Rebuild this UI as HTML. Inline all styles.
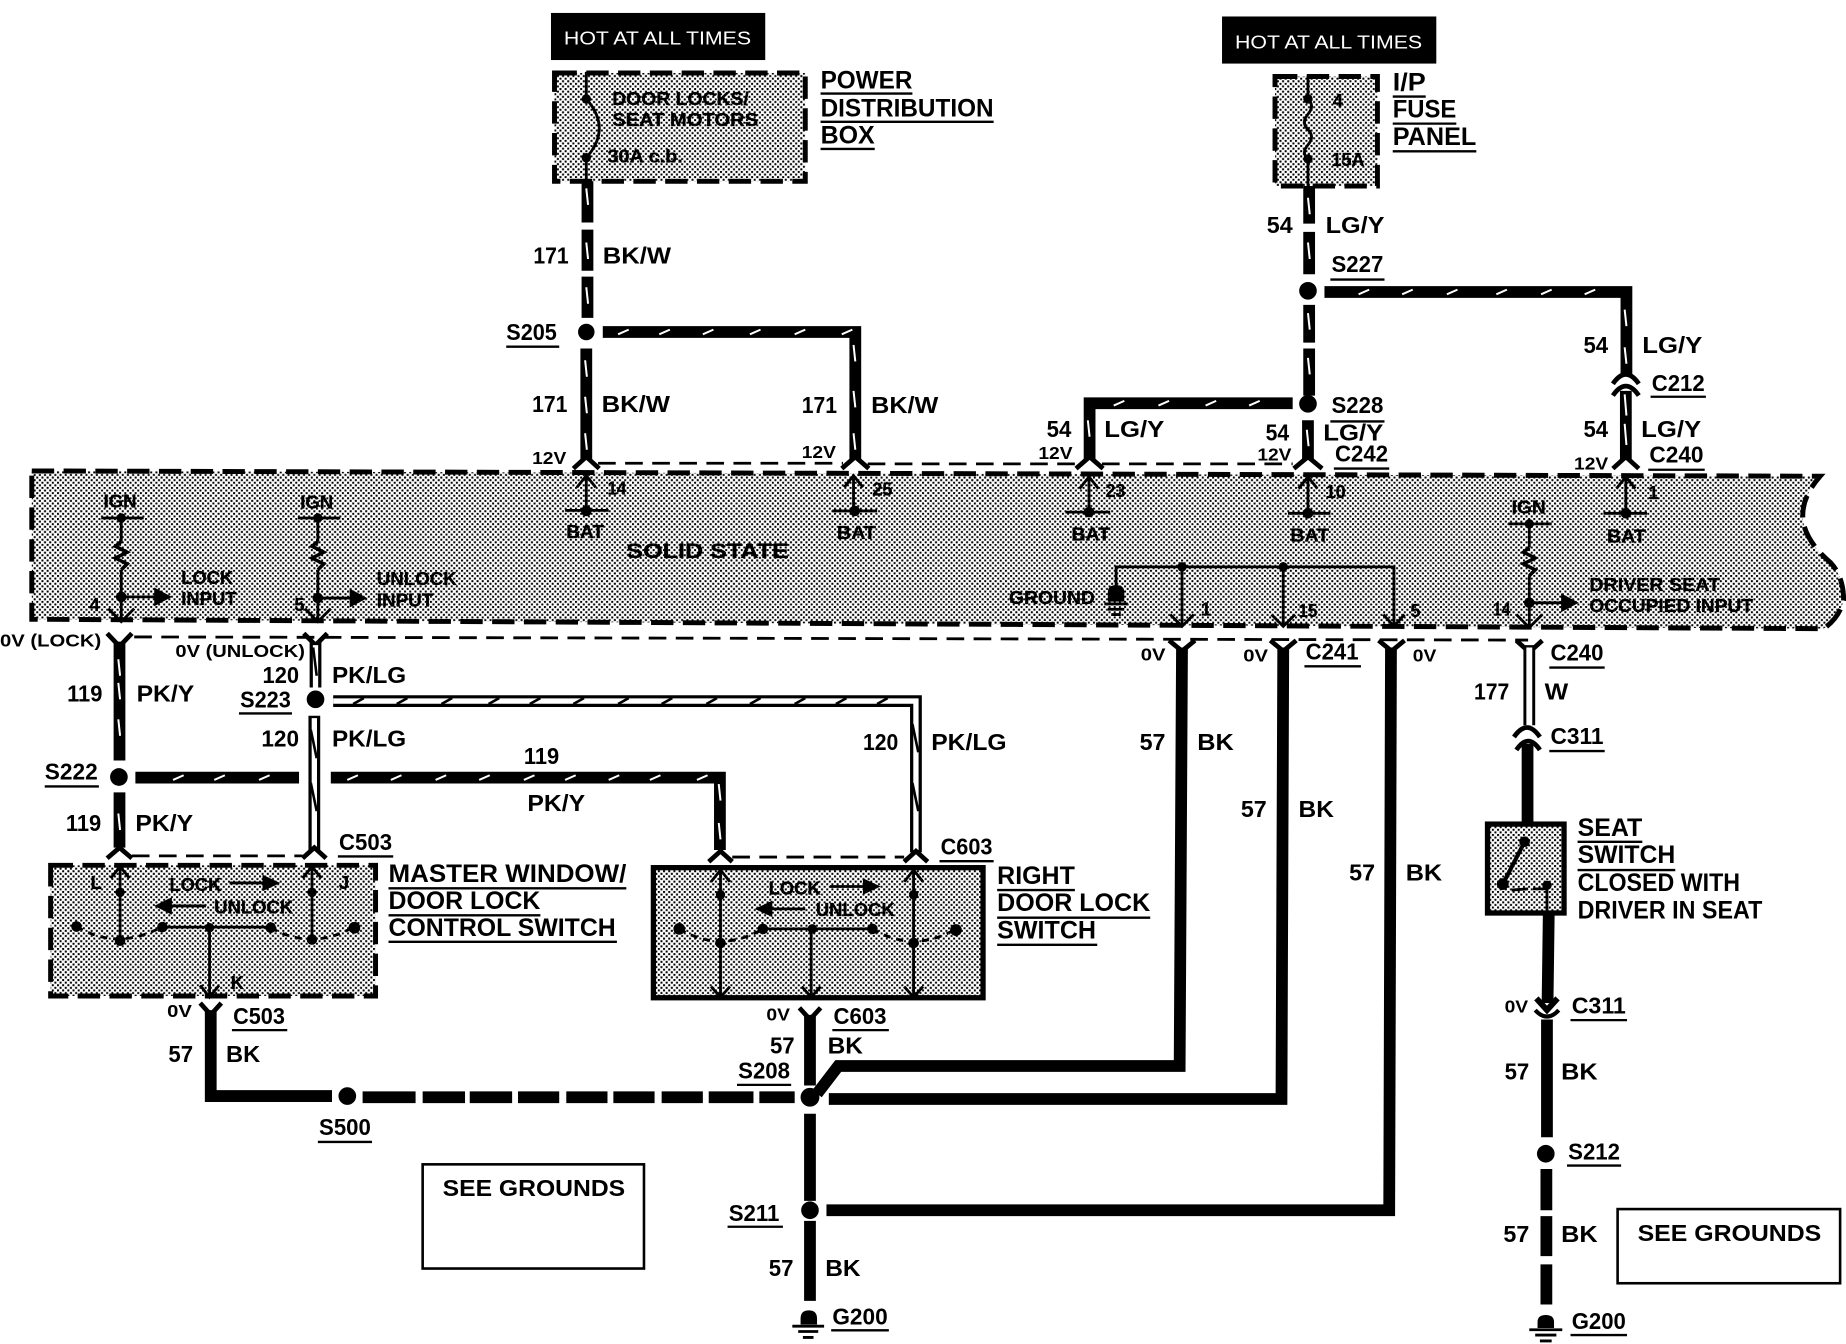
<!DOCTYPE html>
<html><head><meta charset="utf-8"><style>
html,body{margin:0;padding:0;background:#fff}
svg{display:block}
text{font-family:"Liberation Sans",sans-serif;fill:#000}
.l{font-weight:bold;font-size:20px}
.v{font-weight:bold;font-size:15px}
.s{font-size:15.5px;font-weight:bold;stroke:#000;stroke-width:.25}
.w{font-size:16px;fill:#fff}
.n{font-weight:bold;font-size:21px}
.u{stroke:#000;stroke-width:2}
.h{stroke:#000;stroke-width:10;fill:none}
.f{stroke:#fff;stroke-width:1.7;fill:none}
.t{stroke:#000;stroke-width:2.4;fill:none}
.z{stroke:#000;stroke-width:3;fill:none}
.c{stroke:#000;stroke-width:4;fill:none}
.box{stroke:#000;stroke-width:4.2;stroke-dasharray:19 8;fill:url(#d)}
.dl{stroke:#000;stroke-width:2.4;stroke-dasharray:15 8;fill:none}
.dw{stroke:#000;stroke-width:10;fill:none}
.dwi{stroke:#fff;stroke-width:4.5;fill:none}
</style></head><body>
<svg xmlns="http://www.w3.org/2000/svg" width="1846" height="1344" viewBox="0 0 1568 1141.6">
<defs>
<pattern id="d" patternUnits="userSpaceOnUse" width="4.4" height="4.4">
<rect width="4.4" height="4.4" fill="#fff"/>
<rect x="0" y="0" width="1.7" height="1.7" fill="#000"/>
<rect x="2.2" y="2.2" width="1.7" height="1.7" fill="#000"/>
</pattern>
</defs>
<rect width="1568" height="1142" fill="#fff"/>

<!-- HOT boxes -->
<rect x="468" y="11" width="182" height="40" fill="#000"/>
<text class="w" x="479" y="38" textLength="159" lengthAdjust="spacingAndGlyphs">HOT AT ALL TIMES</text>
<rect x="1038" y="14" width="182" height="40" fill="#000"/>
<text class="w" x="1049" y="41" textLength="159" lengthAdjust="spacingAndGlyphs">HOT AT ALL TIMES</text>

<!-- Power distribution box -->
<rect class="box" x="471" y="62" width="213" height="92"/>
<path class="t" d="M498 61V84Q520 109 498 134V154"/>
<circle cx="498" cy="84" r="4"/><circle cx="498" cy="134" r="4"/>
<text class="s" x="520" y="89" textLength="116" lengthAdjust="spacingAndGlyphs">DOOR LOCKS/</text>
<text class="s" x="520" y="107" textLength="124" lengthAdjust="spacingAndGlyphs">SEAT MOTORS</text>
<text class="s" x="516" y="138" textLength="64" lengthAdjust="spacingAndGlyphs">30A c.b.</text>
<text class="n" x="697" y="75" textLength="78" lengthAdjust="spacingAndGlyphs">POWER</text><line class="u" x1="697" x2="775" y1="79.5" y2="79.5"/>
<text class="n" x="697" y="99" textLength="147" lengthAdjust="spacingAndGlyphs">DISTRIBUTION</text><line class="u" x1="697" x2="844" y1="103.5" y2="103.5"/>
<text class="n" x="697" y="122" textLength="46" lengthAdjust="spacingAndGlyphs">BOX</text><line class="u" x1="697" x2="743" y1="126.5" y2="126.5"/>

<!-- 171 wires -->
<path class="h" d="M499 154V189M499 195V230M499 235V270"/>
<circle cx="498" cy="282" r="7"/>
<path class="h" d="M498 296V390"/>
<path class="h" d="M512 282H726.5V390"/>
<path class="f" d="M498 160l1.500 14M498 206l1.500 14M498 244l1.500 14M497 306l1.500 14M497 337l1.500 14M497 368l1.500 14M725 293l1.500 14M725 332l1.500 14M725 368l1.500 14M525 284l9 -4M560 284l9 -4M597 284l9 -4M637 284l9 -4M675 284l9 -4M715 284l9 -4"/>
<text class="l" x="453" y="224" textLength="30" lengthAdjust="spacingAndGlyphs">171</text>
<text class="l" x="512" y="224" textLength="58" lengthAdjust="spacingAndGlyphs">BK/W</text>
<text class="l" x="452" y="350" textLength="30" lengthAdjust="spacingAndGlyphs">171</text>
<text class="l" x="511" y="350" textLength="58" lengthAdjust="spacingAndGlyphs">BK/W</text>
<text class="l" x="681" y="351" textLength="30" lengthAdjust="spacingAndGlyphs">171</text>
<text class="l" x="740" y="351" textLength="57" lengthAdjust="spacingAndGlyphs">BK/W</text>
<text class="l" x="430" y="289" textLength="43" lengthAdjust="spacingAndGlyphs">S205</text><line class="u" x1="430" x2="475" y1="294.5" y2="294.5"/>

<!-- right top -->
<rect class="box" x="1083" y="65" width="87" height="93"/>
<path class="t" d="M1111 64V84q6 6 0 13t0 13t0 13t0 12V158"/>
<circle cx="1111" cy="84" r="4"/><circle cx="1111" cy="135" r="4"/>
<text class="s" x="1132" y="91">4</text>
<text class="s" x="1131" y="141" textLength="28" lengthAdjust="spacingAndGlyphs">15A</text>
<text class="n" x="1183" y="77" textLength="28" lengthAdjust="spacingAndGlyphs">I/P</text><line class="u" x1="1183" x2="1211" y1="82" y2="82"/>
<text class="n" x="1183" y="100" textLength="54" lengthAdjust="spacingAndGlyphs">FUSE</text><line class="u" x1="1183" x2="1237" y1="105" y2="105"/>
<text class="n" x="1183" y="123" textLength="71" lengthAdjust="spacingAndGlyphs">PANEL</text><line class="u" x1="1183" x2="1254" y1="128.5" y2="128.5"/>
<path class="h" d="M1112 158V190M1112 197V233M1112 259V291M1112 296V336"/>
<circle cx="1111" cy="247" r="7.5"/><circle cx="1111" cy="343" r="7.5"/>
<path class="h" d="M1125 248H1381.5V318"/>
<path class="h" d="M1098 342.500H925.500V390"/>
<path class="h" d="M1111 357V390"/>
<path class="h" d="M1381 332V390"/>
<path class="f" d="M1111 168l1.500 14M1111 206l1.500 14M1111 266l1.500 14M1111 304l1.500 14M1110 365l1.500 14M1380 263l1.500 14M1380 295l1.500 14M1380 335l1.500 18M1380 360l1.500 18M924 357l1.500 14M1154 250l9 -4M1191 250l9 -4M1229 250l9 -4M1271 250l9 -4M1309 250l9 -4M1346 250l9 -4M946 344.500l9 -4M984 344.500l9 -4M1024 344.500l9 -4M1061 344.500l9 -4"/>
<path d="M1370 326Q1381 310 1392 326" fill="none" stroke="#000" stroke-width="4"/>
<path d="M1370 336Q1381 320 1392 336" fill="none" stroke="#000" stroke-width="4"/>
<text class="l" x="1076" y="198" textLength="22" lengthAdjust="spacingAndGlyphs">54</text>
<text class="l" x="1126" y="198" textLength="50" lengthAdjust="spacingAndGlyphs">LG/Y</text>
<text class="l" x="1131" y="231" textLength="44" lengthAdjust="spacingAndGlyphs">S227</text><line class="u" x1="1130" x2="1176" y1="237.500" y2="237.500"/>
<text class="l" x="1345" y="300" textLength="21" lengthAdjust="spacingAndGlyphs">54</text>
<text class="l" x="1395" y="300" textLength="51" lengthAdjust="spacingAndGlyphs">LG/Y</text>
<text class="l" x="1403" y="332" textLength="45" lengthAdjust="spacingAndGlyphs">C212</text><line class="u" x1="1402" x2="1449" y1="337" y2="337"/>
<text class="l" x="1345" y="371" textLength="21" lengthAdjust="spacingAndGlyphs">54</text>
<text class="l" x="1394" y="371" textLength="51" lengthAdjust="spacingAndGlyphs">LG/Y</text>
<text class="l" x="1401" y="393" textLength="46" lengthAdjust="spacingAndGlyphs">C240</text><line class="u" x1="1400" x2="1448" y1="399" y2="399"/>
<text class="v" x="1337" y="399" textLength="29" lengthAdjust="spacingAndGlyphs">12V</text>
<text class="l" x="1131" y="351" textLength="44" lengthAdjust="spacingAndGlyphs">S228</text><line class="u" x1="1130" x2="1176" y1="358" y2="358"/>
<text class="l" x="889" y="371" textLength="21" lengthAdjust="spacingAndGlyphs">54</text>
<text class="l" x="938" y="371" textLength="51" lengthAdjust="spacingAndGlyphs">LG/Y</text>
<text class="v" x="882" y="390" textLength="29" lengthAdjust="spacingAndGlyphs">12V</text>
<text class="l" x="1075" y="374" textLength="20" lengthAdjust="spacingAndGlyphs">54</text>
<text class="l" x="1124" y="374" textLength="51" lengthAdjust="spacingAndGlyphs">LG/Y</text>
<text class="v" x="1068" y="391" textLength="29" lengthAdjust="spacingAndGlyphs">12V</text>
<text class="l" x="1134" y="392" textLength="45" lengthAdjust="spacingAndGlyphs">C242</text><line class="u" x1="1133" x2="1180" y1="398" y2="398"/>
<text class="v" x="452" y="394" textLength="29" lengthAdjust="spacingAndGlyphs">12V</text>
<text class="v" x="681" y="389" textLength="29" lengthAdjust="spacingAndGlyphs">12V</text>

<!-- dashed connector lines -->
<path class="dl" d="M508 393.500H716M737 394H915M936 394H1098"/>
<path class="dl" d="M114 541H1298" transform="rotate(.13 114 541)"/>

<!-- Solid state box -->
<path d="M27 400L1546 404.500Q1528 425 1532 445Q1536 462 1555 478Q1566 490 1566 510Q1562 525 1549 534L27 526Z" class="box"/>

<!-- top pins: wire connector arches -->
<path class="c" d="M487 398L498 388L509 398M715 398L726.500 388L738 398M914 398L925.500 388L937 398M1099 398L1111 388L1123 398M1370 398L1381 388L1392 398"/>
<!-- BAT pins -->
<path class="t" d="M498 404V434M490 414L498 404L506 414M480 433.500H517"/>
<path class="t" d="M725 404V434M717 414L725 404L733 414M707 434H745"/>
<path class="t" d="M925 405V435M917 415L925 405L933 415M905 435H943"/>
<path class="t" d="M1111 405V436M1103 415L1111 405L1119 415M1094 436H1130"/>
<path class="t" d="M1381 405V436M1373 415L1381 405L1389 415M1362 436H1399"/>
<circle cx="498" cy="434" r="4.500"/><circle cx="726" cy="434" r="4.500"/><circle cx="925" cy="435" r="4.500"/><circle cx="1111" cy="436" r="4.500"/><circle cx="1381" cy="436" r="4.500"/>
<text class="s" x="516" y="420" textLength="16" lengthAdjust="spacingAndGlyphs">14</text>
<text class="s" x="741" y="421" textLength="17" lengthAdjust="spacingAndGlyphs">25</text>
<text class="s" x="939" y="422" textLength="17" lengthAdjust="spacingAndGlyphs">23</text>
<text class="s" x="1126" y="423" textLength="17" lengthAdjust="spacingAndGlyphs">10</text>
<text class="s" x="1400" y="424">1</text>
<text class="s" x="481" y="457" textLength="32" lengthAdjust="spacingAndGlyphs">BAT</text>
<text class="s" x="711" y="458" textLength="33" lengthAdjust="spacingAndGlyphs">BAT</text>
<text class="s" x="910" y="459" textLength="33" lengthAdjust="spacingAndGlyphs">BAT</text>
<text class="s" x="1096" y="460" textLength="33" lengthAdjust="spacingAndGlyphs">BAT</text>
<text class="s" x="1365" y="461" textLength="33" lengthAdjust="spacingAndGlyphs">BAT</text>
<text class="s" x="532" y="474" textLength="138" lengthAdjust="spacingAndGlyphs" style="font-size:18px">SOLID STATE</text>

<!-- IGN 1 -->
<text class="s" x="88" y="431" textLength="28" lengthAdjust="spacingAndGlyphs">IGN</text>
<path class="t" d="M86 440H122M103 440V460M103 484V527M92 517L103 528L114 517M103 507H132"/>
<path class="z" d="M103 460l-5 4l10 5l-10 5l10 5l-5 5"/>
<circle cx="103" cy="440" r="4"/><circle cx="103" cy="507" r="4.500"/>
<path d="M131 499L146 507L131 515Z"/>
<text class="s" x="76" y="519">4</text>
<text class="s" x="154" y="496" textLength="44" lengthAdjust="spacingAndGlyphs">LOCK</text>
<text class="s" x="154" y="514" textLength="47" lengthAdjust="spacingAndGlyphs">INPUT</text>
<!-- IGN 2 -->
<text class="s" x="255" y="432" textLength="28" lengthAdjust="spacingAndGlyphs">IGN</text>
<path class="t" d="M253 440H289M270 440V460M270 484V527M259 517L270 528L281 517M270 508H298"/>
<path class="z" d="M270 460l-5 4l10 5l-10 5l10 5l-5 5"/>
<circle cx="270" cy="440" r="4"/><circle cx="270" cy="508" r="4.500"/>
<path d="M297 500L312 508L297 516Z"/>
<text class="s" x="250" y="519">5</text>
<text class="s" x="320" y="497" textLength="68" lengthAdjust="spacingAndGlyphs">UNLOCK</text>
<text class="s" x="320" y="515" textLength="48" lengthAdjust="spacingAndGlyphs">INPUT</text>
<!-- IGN 3 -->
<text class="s" x="1284" y="436" textLength="29" lengthAdjust="spacingAndGlyphs">IGN</text>
<path class="t" d="M1281 445H1318M1299 445V465M1299 489V532M1288 522L1299 533L1310 522M1299 512H1328"/>
<path class="z" d="M1299 465l-5 4l10 5l-10 5l10 5l-5 5"/>
<circle cx="1299" cy="445" r="4"/><circle cx="1299" cy="512" r="4.500"/>
<path d="M1326 504L1341 512L1326 520Z"/>
<text class="s" x="1268" y="523" textLength="15" lengthAdjust="spacingAndGlyphs">14</text>
<text class="s" x="1350" y="502" textLength="111" lengthAdjust="spacingAndGlyphs">DRIVER SEAT</text>
<text class="s" x="1350" y="520" textLength="139" lengthAdjust="spacingAndGlyphs">OCCUPIED INPUT</text>
<!-- Ground -->
<text class="s" x="857" y="513" textLength="73" lengthAdjust="spacingAndGlyphs">GROUND</text>
<path class="t" d="M948 500V481.500H1184V531M1004 481.500V531M1090 481.500V531M994 522L1004 532L1014 522M1080 522L1090 532L1100 522M1175 522L1184 532L1193 522"/>
<circle cx="1004" cy="481.500" r="4"/><circle cx="1090" cy="481.500" r="4"/>
<path d="M941 511V503Q941 497 948 497Q955 497 955 503V511Z"/>
<path class="t" d="M938 513H958M941 517.500H955M944 522H952"/>
<text class="s" x="1020" y="523">1</text>
<text class="s" x="1103" y="524" textLength="16" lengthAdjust="spacingAndGlyphs">15</text>
<text class="s" x="1198" y="524">5</text>

<!-- Bottom of solid state: 57 wires -->
<path class="c" d="M993 544L1004 553L1015 544M1079 544L1090 553L1101 544M1171 544L1182 553L1193 544"/>
<path class="h" d="M1004 550L1002 905.500H712L694 929"/>
<path class="h" d="M1090 550L1088.500 933.500H704"/>
<path class="h" d="M1181.500 550L1180 1028H702"/>
<text class="v" x="969" y="561" textLength="21" lengthAdjust="spacingAndGlyphs">0V</text>
<text class="v" x="1056" y="562" textLength="21" lengthAdjust="spacingAndGlyphs">0V</text>
<text class="v" x="1200" y="562" textLength="20" lengthAdjust="spacingAndGlyphs">0V</text>
<text class="l" x="1109" y="560" textLength="45" lengthAdjust="spacingAndGlyphs">C241</text><line class="u" x1="1108" x2="1156" y1="566" y2="566"/>
<text class="l" x="1317" y="561" textLength="45" lengthAdjust="spacingAndGlyphs">C240</text><line class="u" x1="1316" x2="1363" y1="567" y2="567"/>
<text class="l" x="968" y="637" textLength="22" lengthAdjust="spacingAndGlyphs">57</text>
<text class="l" x="1017" y="637" textLength="31" lengthAdjust="spacingAndGlyphs">BK</text>
<text class="l" x="1054" y="694" textLength="22" lengthAdjust="spacingAndGlyphs">57</text>
<text class="l" x="1103" y="694" textLength="30" lengthAdjust="spacingAndGlyphs">BK</text>
<text class="l" x="1146" y="748" textLength="22" lengthAdjust="spacingAndGlyphs">57</text>
<text class="l" x="1194" y="748" textLength="31" lengthAdjust="spacingAndGlyphs">BK</text>

<!-- 119 PK/Y -->
<path class="c" d="M91 538L101.500 549L112 538"/>
<path class="h" d="M101.500 545V646M101.500 673V720"/>
<circle cx="101" cy="660" r="7.500"/>
<path class="h" d="M115 660.500H254M281 660.500H611.500V722"/>
<path class="f" d="M100.500 560l1.500 14M100.500 580l1.500 14M100.500 611l1.500 14M100.500 691l1.500 14M610.500 666l1.500 14M610.500 699l1.500 14M147 662.500l9 -4M182 662.500l9 -4M220 662.500l9 -4M295 662.500l9 -4M332 662.500l9 -4M370 662.500l9 -4M407 662.500l9 -4M445 662.500l9 -4M480 662.500l9 -4M517 662.500l9 -4M552 662.500l9 -4M592 662.500l9 -4"/>
<text class="l" x="57" y="596" textLength="30" lengthAdjust="spacingAndGlyphs">119</text>
<text class="l" x="116" y="596" textLength="49" lengthAdjust="spacingAndGlyphs">PK/Y</text>
<text class="l" x="56" y="706" textLength="30" lengthAdjust="spacingAndGlyphs">119</text>
<text class="l" x="115" y="706" textLength="49" lengthAdjust="spacingAndGlyphs">PK/Y</text>
<text class="l" x="445" y="649" textLength="30" lengthAdjust="spacingAndGlyphs">119</text>
<text class="l" x="448" y="689" textLength="49" lengthAdjust="spacingAndGlyphs">PK/Y</text>
<text class="l" x="38" y="662" textLength="45" lengthAdjust="spacingAndGlyphs">S222</text><line class="u" x1="38" x2="84" y1="668" y2="668"/>
<text class="v" x="0" y="549" textLength="86" lengthAdjust="spacingAndGlyphs">0V (LOCK)</text>
<text class="v" x="149" y="558" textLength="110" lengthAdjust="spacingAndGlyphs">0V (UNLOCK)</text>

<!-- 120 PK/LG -->
<path class="c" d="M258 538L268 548L278 538"/>
<path class="dw" d="M268 545V584M267 608V722"/><path class="dwi" d="M268 548V584M267 610V720"/>
<path class="dw" d="M283 595.500H778V724"/><path class="dwi" d="M283 595.500H778V722"/>
<path d="M300 598l9 -5M337 598l9 -5M375 598l9 -5M415 598l9 -5M450 598l9 -5M487 598l9 -5M525 598l9 -5M562 598l9 -5M600 598l9 -5M637 598l9 -5M675 598l9 -5M710 598l9 -5M745 598l9 -5M264 620l5 24M264 665l5 24M775 615l5 24M775 665l5 24M266 550l3 24" stroke="#000" stroke-width="2.200" fill="none"/>
<circle cx="268" cy="594" r="7.500"/>
<text class="l" x="223" y="580" textLength="31" lengthAdjust="spacingAndGlyphs">120</text>
<text class="l" x="282" y="580" textLength="63" lengthAdjust="spacingAndGlyphs">PK/LG</text>
<text class="l" x="204" y="601" textLength="43" lengthAdjust="spacingAndGlyphs">S223</text><line class="u" x1="203" x2="248" y1="606" y2="606"/>
<text class="l" x="222" y="634" textLength="32" lengthAdjust="spacingAndGlyphs">120</text>
<text class="l" x="282" y="634" textLength="63" lengthAdjust="spacingAndGlyphs">PK/LG</text>
<text class="l" x="733" y="637" textLength="30" lengthAdjust="spacingAndGlyphs">120</text>
<text class="l" x="791" y="637" textLength="64" lengthAdjust="spacingAndGlyphs">PK/LG</text>

<!-- connector arches above switches -->
<path class="c" d="M91 729L101.500 720L112 729M257 729L267 720L277 729M602 732L612 723L622 732M768 732L778 723L788 732"/>
<path class="dl" d="M112 727H257M622 728H768"/>
<text class="l" x="288" y="722" textLength="45" lengthAdjust="spacingAndGlyphs">C503</text><line class="u" x1="287" x2="334" y1="727.500" y2="727.500"/>
<text class="l" x="799" y="726" textLength="44" lengthAdjust="spacingAndGlyphs">C603</text><line class="u" x1="798" x2="844" y1="731.500" y2="731.500"/>

<!-- Master switch -->
<rect class="box" x="43" y="735" width="276" height="111"/>
<text class="s" x="77" y="755">L</text>
<text class="s" x="288" y="755">J</text>
<text class="s" x="196" y="840">K</text>
<path class="t" d="M102 737V800M94 746L102 736L110 746M265 737V800M257 746L265 736L273 746"/>
<circle cx="102" cy="758" r="4"/><circle cx="102" cy="799" r="4.500"/><circle cx="265" cy="758" r="4"/><circle cx="265" cy="798" r="4.500"/>
<text class="s" x="144" y="757" textLength="44" lengthAdjust="spacingAndGlyphs">LOCK</text>
<path class="t" d="M195 750H225"/><path d="M223 743L238 750L223 757Z"/>
<text class="s" x="182" y="776" textLength="67" lengthAdjust="spacingAndGlyphs">UNLOCK</text>
<path class="t" d="M175 769.500H145"/><path d="M146 762L131 769.500L146 777Z"/>
<path class="t" d="M138 787.500H230M178 787.500V846M170 837L178 847L186 837"/>
<path class="t" style="stroke-dasharray:6 5" d="M65 787Q100 808 138 787M230 788Q265 808 301 787"/>
<circle cx="65" cy="787" r="4.500"/><circle cx="138" cy="787.500" r="4.500"/><circle cx="178" cy="788" r="4"/><circle cx="230" cy="788" r="4.500"/><circle cx="301" cy="788" r="5"/>
<text class="n" x="330" y="749" textLength="202" lengthAdjust="spacingAndGlyphs">MASTER WINDOW/</text><line class="u" x1="330" x2="532" y1="754.500" y2="754.500"/>
<text class="n" x="330" y="772" textLength="129" lengthAdjust="spacingAndGlyphs">DOOR LOCK</text><line class="u" x1="330" x2="459" y1="777.500" y2="777.500"/>
<text class="n" x="330" y="795" textLength="193" lengthAdjust="spacingAndGlyphs">CONTROL SWITCH</text><line class="u" x1="330" x2="524" y1="800" y2="800"/>

<!-- Right door lock switch -->
<rect x="555" y="737" width="280" height="110.500" fill="url(#d)" stroke="#000" stroke-width="4.500"/>
<path class="t" d="M612 739V846M604 749L612 739L620 749M604 838L612 847L620 838M776 739V846M768 749L776 739L784 749M768 838L776 847L784 838"/>
<path class="t" d="M648 789H741M689 789V846M681 838L689 847L697 838"/>
<path class="t" style="stroke-dasharray:6 5" d="M577 789Q612 810 648 789M741 789Q776 810 812 789"/>
<circle cx="612" cy="760" r="4"/><circle cx="612" cy="801" r="4.500"/><circle cx="776" cy="760" r="4"/><circle cx="776" cy="801" r="4.500"/>
<circle cx="577" cy="789" r="5"/><circle cx="648" cy="789" r="4.500"/><circle cx="690" cy="789" r="4"/><circle cx="741" cy="789" r="4.500"/><circle cx="812" cy="790" r="5"/>
<text class="s" x="653" y="760" textLength="44" lengthAdjust="spacingAndGlyphs">LOCK</text>
<path class="t" d="M705 753H735"/><path d="M733 746L748 753L733 760Z"/>
<text class="s" x="693" y="778" textLength="67" lengthAdjust="spacingAndGlyphs">UNLOCK</text>
<path class="t" d="M684 772H654"/><path d="M656 765L641 772L656 779Z"/>
<text class="n" x="847" y="751" textLength="66" lengthAdjust="spacingAndGlyphs">RIGHT</text><line class="u" x1="847" x2="913" y1="756" y2="756"/>
<text class="n" x="847" y="774" textLength="130" lengthAdjust="spacingAndGlyphs">DOOR LOCK</text><line class="u" x1="847" x2="977" y1="779.500" y2="779.500"/>
<text class="n" x="847" y="797" textLength="84" lengthAdjust="spacingAndGlyphs">SWITCH</text><line class="u" x1="847" x2="932" y1="802.500" y2="802.500"/>

<!-- Lower left -->
<path class="c" d="M170 852L179 862L188 852"/>
<path class="h" d="M179 858V931H282"/>
<circle cx="295" cy="931" r="7.500"/>
<path class="h" d="M308 932H353M359 932H395M399 932H435M440 932H475M481 932H516M521 932H556M562 932H597M602 932H640M645 932H675"/>
<text class="v" x="142" y="864" textLength="21" lengthAdjust="spacingAndGlyphs">0V</text>
<text class="l" x="198" y="870" textLength="44" lengthAdjust="spacingAndGlyphs">C503</text><line class="u" x1="197" x2="244" y1="875" y2="875"/>
<text class="l" x="143" y="902" textLength="21" lengthAdjust="spacingAndGlyphs">57</text>
<text class="l" x="192" y="902" textLength="29" lengthAdjust="spacingAndGlyphs">BK</text>
<text class="l" x="271" y="964" textLength="44" lengthAdjust="spacingAndGlyphs">S500</text><line class="u" x1="270" x2="316" y1="970" y2="970"/>

<!-- Center bus -->
<path class="c" d="M679 856L688 866L697 856"/>
<path class="h" d="M688 862V922M688 946V1020M688 1037V1105"/>
<circle cx="688" cy="932" r="8"/><circle cx="688" cy="1028" r="7.500"/>
<path d="M680 1125V1120Q680 1113 687 1113Q694 1113 694 1120V1125Z"/>
<path class="t" d="M673 1126.500H700M678 1131H695M682 1136H691"/>
<text class="v" x="651" y="867" textLength="20" lengthAdjust="spacingAndGlyphs">0V</text>
<text class="l" x="708" y="870" textLength="45" lengthAdjust="spacingAndGlyphs">C603</text><line class="u" x1="707" x2="755" y1="875" y2="875"/>
<text class="l" x="654" y="895" textLength="21" lengthAdjust="spacingAndGlyphs">57</text>
<text class="l" x="703" y="895" textLength="30" lengthAdjust="spacingAndGlyphs">BK</text>
<text class="l" x="627" y="916" textLength="44" lengthAdjust="spacingAndGlyphs">S208</text><line class="u" x1="626" x2="672" y1="921.500" y2="921.500"/>
<text class="l" x="619" y="1037" textLength="43" lengthAdjust="spacingAndGlyphs">S211</text><line class="u" x1="618" x2="665" y1="1042" y2="1042"/>
<text class="l" x="653" y="1084" textLength="21" lengthAdjust="spacingAndGlyphs">57</text>
<text class="l" x="701" y="1084" textLength="30" lengthAdjust="spacingAndGlyphs">BK</text>
<text class="l" x="707" y="1125" textLength="47" lengthAdjust="spacingAndGlyphs">G200</text><line class="u" x1="706" x2="755" y1="1130" y2="1130"/>

<!-- See grounds -->
<rect x="359" y="989" width="188" height="88.500" fill="#fff" stroke="#000" stroke-width="2.200"/>
<text class="l" x="376" y="1016" textLength="155" lengthAdjust="spacingAndGlyphs">SEE GROUNDS</text>
<rect x="1374" y="1027" width="189" height="63" fill="#fff" stroke="#000" stroke-width="2.200"/>
<text class="l" x="1391" y="1054" textLength="156" lengthAdjust="spacingAndGlyphs">SEE GROUNDS</text>

<!-- 177 W / seat switch -->
<path class="c" d="M1288 544L1299 554L1310 544"/>
<path class="dw" d="M1299 548V616"/><path class="dwi" d="M1299 550V616" style="stroke-width:5"/>
<text class="l" x="1252" y="594" textLength="30" lengthAdjust="spacingAndGlyphs">177</text>
<text class="l" x="1312" y="594" textLength="20" lengthAdjust="spacingAndGlyphs">W</text>
<path d="M1286 626Q1297 610 1308 626" fill="none" stroke="#000" stroke-width="4"/>
<path d="M1288 637Q1298 622 1308 637" fill="none" stroke="#000" stroke-width="4"/>
<text class="l" x="1317" y="632" textLength="45" lengthAdjust="spacingAndGlyphs">C311</text><line class="u" x1="1316" x2="1363" y1="638" y2="638"/>
<path class="h" d="M1297.500 632V700"/>
<rect x="1263.500" y="700" width="65" height="75.500" fill="url(#d)" stroke="#000" stroke-width="4.500"/>
<path d="M1295 715L1276.500 751" stroke="#000" stroke-width="3.500"/>
<path class="t" d="M1284 756L1298 755M1302 755H1314V776"/>
<circle cx="1295" cy="715" r="4.500"/><circle cx="1276.500" cy="751" r="5"/><circle cx="1314" cy="752" r="4"/>
<text class="n" x="1340" y="710" textLength="55" lengthAdjust="spacingAndGlyphs">SEAT</text><line class="u" x1="1340" x2="1395" y1="715" y2="715"/>
<text class="n" x="1340" y="733" textLength="83" lengthAdjust="spacingAndGlyphs">SWITCH</text><line class="u" x1="1340" x2="1423" y1="739" y2="739"/>
<text class="n" x="1340" y="757" textLength="138" lengthAdjust="spacingAndGlyphs">CLOSED WITH</text>
<text class="n" x="1340" y="780" textLength="157" lengthAdjust="spacingAndGlyphs">DRIVER IN SEAT</text>
<path class="h" d="M1315.500 777L1314.500 852"/>
<path d="M1305 848L1314 858L1323 848" fill="none" stroke="#000" stroke-width="5"/>
<path d="M1304 858Q1314 869 1324 858" fill="none" stroke="#000" stroke-width="3.500"/>
<path class="h" d="M1314 866V966M1313.500 993V1028M1313.500 1033V1067M1313.500 1074V1108"/>
<circle cx="1313" cy="980" r="7.500"/>
<path d="M1306 1128V1123Q1306 1117 1313 1117Q1320 1117 1320 1123V1128Z"/>
<path class="t" d="M1299 1129.500H1327M1304 1134H1322M1308 1139H1318"/>
<text class="v" x="1278" y="860" textLength="20" lengthAdjust="spacingAndGlyphs">0V</text>
<text class="l" x="1335" y="861" textLength="46" lengthAdjust="spacingAndGlyphs">C311</text><line class="u" x1="1334" x2="1382" y1="866.500" y2="866.500"/>
<text class="l" x="1278" y="917" textLength="21" lengthAdjust="spacingAndGlyphs">57</text>
<text class="l" x="1326" y="917" textLength="31" lengthAdjust="spacingAndGlyphs">BK</text>
<text class="l" x="1332" y="985" textLength="44" lengthAdjust="spacingAndGlyphs">S212</text><line class="u" x1="1331" x2="1377" y1="990" y2="990"/>
<text class="l" x="1277" y="1055" textLength="22" lengthAdjust="spacingAndGlyphs">57</text>
<text class="l" x="1326" y="1055" textLength="31" lengthAdjust="spacingAndGlyphs">BK</text>
<text class="l" x="1335" y="1129" textLength="46" lengthAdjust="spacingAndGlyphs">G200</text><line class="u" x1="1334" x2="1382" y1="1134" y2="1134"/>
</svg>
</body></html>
